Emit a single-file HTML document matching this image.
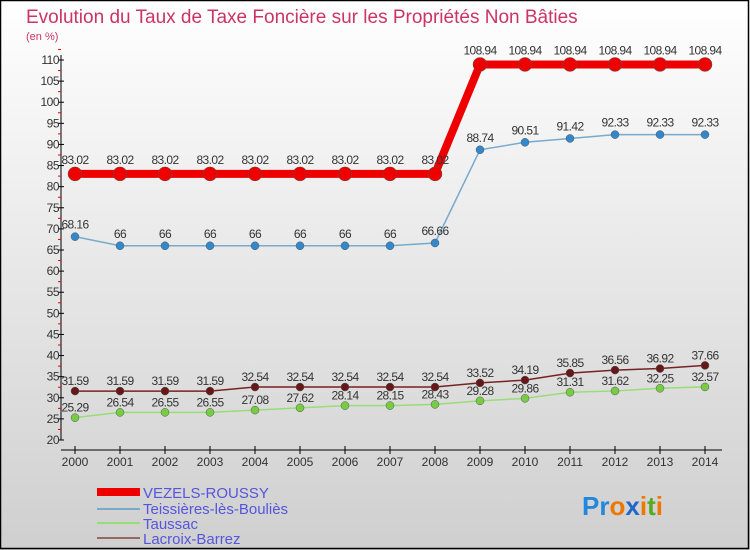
<!DOCTYPE html>
<html><head><meta charset="utf-8">
<style>
body{margin:0;width:750px;height:550px;overflow:hidden;font-family:"Liberation Sans",sans-serif;}
svg{display:block}
</style></head>
<body>
<svg id="chart" width="750" height="550" xmlns="http://www.w3.org/2000/svg">
<defs><linearGradient id="bg" x1="0" y1="0" x2="0" y2="1"><stop offset="0" stop-color="#ffffff"/><stop offset="1" stop-color="#cfcfcf"/></linearGradient></defs>
<rect x="0" y="0" width="750" height="550" fill="url(#bg)"/>
<rect x="0.5" y="0.5" width="748" height="548" fill="none" stroke="#000" stroke-width="1.5"/>
<text x="26" y="23" font-size="19" fill="#cc3366">Evolution du Taux de Taxe Foncière sur les Propriétés Non Bâties</text>
<text x="26" y="40" font-size="11" fill="#cc3366">(en %)</text>
<g id="axes"></g>
<g id="series"></g>
<g id="legend">
 <rect x="97" y="488" width="43" height="8" fill="#ee0000"/>
 <text x="143" y="498" font-size="15" fill="#5555dd">VEZELS-ROUSSY</text>
 <rect x="97" y="508" width="43" height="2" fill="#77aacc"/>
 <text x="143" y="514" font-size="15" fill="#5555dd">Teissières-lès-Bouliès</text>
 <rect x="97" y="522" width="43" height="2" fill="#99dd77"/>
 <text x="143" y="529" font-size="15" fill="#5555dd">Taussac</text>
 <rect x="97" y="537" width="43" height="2" fill="#996666"/>
 <text x="143" y="544" font-size="15" fill="#5555dd">Lacroix-Barrez</text>
</g>
<g font-size="26" font-weight="bold">
 <text x="582" y="515"><tspan fill="#2288dd">Pr</tspan><tspan fill="#ee7700">o</tspan><tspan fill="#2266cc">x</tspan><tspan fill="#ee7700">i</tspan><tspan fill="#55aa22">t</tspan><tspan fill="#ee7700">i</tspan></text>
</g>
</svg>
<script>
const years = [2000,2001,2002,2003,2004,2005,2006,2007,2008,2009,2010,2011,2012,2013,2014];
const vezels = [83.02,83.02,83.02,83.02,83.02,83.02,83.02,83.02,83.02,108.94,108.94,108.94,108.94,108.94,108.94];
const teissieres = [68.16,66,66,66,66,66,66,66,66.66,88.74,90.51,91.42,92.33,92.33,92.33];
const taussac = [25.29,26.54,26.55,26.55,27.08,27.62,28.14,28.15,28.43,29.28,29.86,31.31,31.62,32.25,32.57];
const lacroix = [31.59,31.59,31.59,31.59,32.54,32.54,32.54,32.54,32.54,33.52,34.19,35.85,36.56,36.92,37.66];
const yTicks = [20,25,30,35,40,45,50,55,60,65,70,75,80,85,90,95,100,105,110];

const NS="http://www.w3.org/2000/svg";
const x0=75,x1=705,yTop=60,yBot=440,yMin=20,yMax=110;
const X=i=>x0+(x1-x0)*i/(years.length-1);
const Y=v=>yBot-(v-yMin)/(yMax-yMin)*(yBot-yTop);
function mk(t,a,p){const e=document.createElementNS(NS,t);for(const k in a)e.setAttribute(k,a[k]);p.appendChild(e);return e;}
const axes=document.getElementById('axes');
let e=mk('line',{x1:61,y1:yTop-5,x2:61,y2:yBot,stroke:'#000'},axes);


yTicks.forEach(v=>{
  mk('line',{x1:58,y1:Y(v),x2:64,y2:Y(v),stroke:'#000'},axes);
  mk('line',{x1:58,y1:Y(v+2.5),x2:61,y2:Y(v+2.5),stroke:'#e00'},axes);
  const t=mk('text',{x:59,y:Y(v)+4,'font-size':12,'text-anchor':'end',fill:'#333','letter-spacing':'-0.5'},axes);
  t.textContent=v;
  
  
});
e=mk('line',{x1:61,y1:450,x2:722,y2:450,stroke:'#000'},axes);


years.forEach((yr,i)=>{
  mk('line',{x1:X(i),y1:446,x2:X(i),y2:454,stroke:'#000'},axes);
  const t=mk('text',{x:X(i),y:466,'font-size':12,'text-anchor':'middle',fill:'#333'},axes);
  t.textContent=yr;
  
  
});
const ser=document.getElementById('series');
function draw(name,vals,color,w,r,dot,lblOff){
  const g=mk('g',{},ser);
  
  
  const l=mk('polyline',{points:vals.map((v,i)=>X(i)+','+Y(v)).join(' '),fill:'none',stroke:color,'stroke-width':w},g);
  
  
  vals.forEach((v,i)=>{
    const c=mk('circle',{cx:X(i),cy:Y(v),r:r,fill:dot,stroke:'#555','stroke-width':0.5},g);
    
    
    const t=mk('text',{x:X(i),y:Y(v)+lblOff,'font-size':12,'text-anchor':'middle',fill:'#333','letter-spacing':'-0.6'},g);
    t.textContent=v;
    
    
  });
}
draw('taussac',taussac,'#99dd77',1.5,4,'#77cc44',-6);
draw('lacroix',lacroix,'#772222',1.5,4,'#661818',-6);
draw('teissieres',teissieres,'#77aacc',1.5,4,'#3388cc',-8);
draw('vezels',vezels,'#ee0000',8,7,'#ee0000',-10);
</script>
</body></html>
